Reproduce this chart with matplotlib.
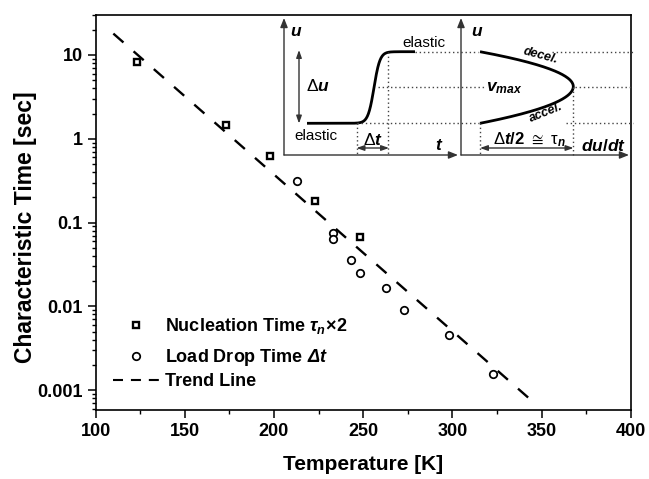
import numpy as np
import matplotlib
matplotlib.use("Agg")
import matplotlib.pyplot as plt
from matplotlib.ticker import FixedLocator, LogLocator, NullFormatter, FuncFormatter, MultipleLocator
from matplotlib.lines import Line2D

plt.rcParams['font.family'] = ['Liberation Sans', 'DejaVu Sans']
plt.rcParams['mathtext.fontset'] = 'custom'
plt.rcParams['mathtext.rm'] = 'Liberation Sans:bold'
plt.rcParams['mathtext.it'] = 'Liberation Sans:italic:bold'
plt.rcParams['mathtext.bf'] = 'Liberation Sans:bold'
plt.rcParams['mathtext.sf'] = 'Liberation Sans'
plt.rcParams['mathtext.cal'] = 'Liberation Sans:italic:bold'

# ---------------- data ----------------
nucleation_T = [123, 173, 198, 223, 248]
nucleation_time = [8.25, 1.47, 0.63, 0.183, 0.067]

loaddrop_T = [213, 233, 233, 243, 248, 263, 273, 298, 323]
loaddrop_time = [0.31, 0.075, 0.064, 0.036, 0.025, 0.0167, 0.0090, 0.0046, 0.00158]

trend_T = [110, 343]
trend_time = [18.0, 0.0008]

x_ticks = [100, 150, 200, 250, 300, 350, 400]
y_ticks = [0.001, 0.01, 0.1, 1, 10]

W, H = 649, 479
fig = plt.figure(figsize=(W / 100, H / 100), dpi=100)
ax = fig.add_axes([95.5 / W, 1 - 410 / H, (630.7 - 95.5) / W, (410 - 15) / H])

ax.set_yscale('log')
sq_style = dict(ls='none', marker='s', ms=4.6, mew=1.7, mec='black', mfc='white')
ci_style = dict(ls='none', marker='o', ms=5.4, mew=1.25, mec='black', mfc='white')
ax.plot(trend_T, trend_time, color='black', lw=1.7, dashes=(5.7, 5.7), dash_capstyle='butt')
ax.plot(nucleation_T, nucleation_time, **sq_style)
ax.plot(loaddrop_T, loaddrop_time, **ci_style)

ax.set_xlim(100, 400)
ax.set_ylim(5.8e-4, 30)
ax.xaxis.set_major_locator(FixedLocator(x_ticks))
ax.xaxis.set_minor_locator(MultipleLocator(25))
ax.yaxis.set_major_locator(FixedLocator(y_ticks))
ax.yaxis.set_minor_locator(LogLocator(base=10, subs=np.arange(2, 10)))
ax.yaxis.set_minor_formatter(NullFormatter())
ax.yaxis.set_major_formatter(FuncFormatter(lambda v, p: f"{v:g}"))

for s in ax.spines.values():
    s.set_linewidth(1.2)
ax.tick_params(which='major', direction='out', length=5.5, width=1.1, labelsize=13, pad=3.5)
ax.tick_params(which='minor', direction='out', length=3.2, width=1.0)
ax.tick_params(top=False, right=False, which='both')
for lab in ax.get_xticklabels() + ax.get_yticklabels():
    lab.set_fontweight('bold')

ax.set_xlabel('Temperature [K]', fontsize=15, fontweight='bold')
ax.set_ylabel('Characteristic Time [sec]', fontsize=16.5, fontweight='bold')
ax.xaxis.set_label_coords(0.5, (410 - 455) / 395)
ax.yaxis.set_label_coords((37 - 95.5) / 535.2, (410 - 227.5) / 395)

# legend (two blocks to reproduce the uneven row spacing)
leg_kw = dict(frameon=False, borderpad=0, borderaxespad=0, handlelength=2.6,
              handletextpad=0.3, numpoints=1, prop={'size': 13, 'weight': 'bold'},
              bbox_transform=fig.transFigure, loc='center left')
leg1 = ax.legend([Line2D([], [], **sq_style), Line2D([], [], **ci_style)],
                 [r'Nucleation Time $\tau_n\!\times\!2$', r'Load Drop Time $\mathcal{\Delta t}$'],
                 bbox_to_anchor=(113 / W, 1 - 342 / H), labelspacing=0.6, **leg_kw)
ax.add_artist(leg1)
ax.legend([Line2D([], [], color='black', lw=1.5, dashes=(4.8, 3.8))], ['Trend Line'],
          bbox_to_anchor=(113 / W, 1 - 382 / H), **leg_kw)

# ---------------- inset schematic (pixel coordinates of the figure) ----------------
ov = fig.add_axes([0, 0, 1, 1])
ov.set_xlim(0, W)
ov.set_ylim(H, 0)
ov.axis('off')
ov.patch.set_visible(False)

gc = '#333333'
def arrow(x0, y0, x1, y1, style='-|>,head_length=0.55,head_width=0.22'):
    ov.annotate('', xy=(x1, y1), xytext=(x0, y0),
                arrowprops=dict(arrowstyle=style, lw=1.0, color=gc,
                                shrinkA=0, shrinkB=0))

dstyle = '<|-|>,head_length=0.45,head_width=0.16'
dot = dict(color='#444444', lw=1.0, ls=(0, (1, 2)))

# left panel axes
arrow(284, 155, 284, 18)
arrow(284, 155, 458, 155)
# right panel axes
arrow(461, 155, 461, 18)
arrow(461, 155, 629, 155)

# sigmoid u(t)
xs = np.linspace(307, 415, 300)
ys = 123.3 - 71.6 * (0.5 + 0.5 * np.tanh((xs - 374) / 6.0))
ov.plot(xs, ys, color='black', lw=2.0, solid_capstyle='butt')

# bell: du/dt vs u
yu = np.linspace(51.7, 86.5, 100)
xu = 573.3 - 93.3 * ((86.5 - yu) / 34.8) ** 2
yl = np.linspace(86.5, 123.3, 100)
xl = 573.3 - 93.3 * ((yl - 86.5) / 36.8) ** 2
ov.plot(np.r_[xu, xl], np.r_[yu, yl], color='black', lw=2.0, solid_capstyle='butt')

# dotted guides
ov.plot([415, 478], [51.7, 51.7], **dot)
ov.plot([552, 633], [51.7, 51.7], **dot)
ov.plot([378, 484], [86.5, 86.5], **dot)
ov.plot([575, 633], [86.5, 86.5], **dot)
ov.plot([357, 479], [123.3, 123.3], **dot)
ov.plot([566, 633], [123.3, 123.3], **dot)
ov.plot([356.7, 356.7], [123.3, 155], **dot)
ov.plot([388.3, 388.3], [51.7, 155], **dot)
ov.plot([480, 480], [123.3, 155], **dot)
ov.plot([573.3, 573.3], [86.5, 155], **dot)

# double arrows
arrow(299, 123.5, 299, 50, dstyle)
arrow(356.5, 148, 389, 148, dstyle)
arrow(480, 148, 573.5, 148, dstyle)

# texts
ov.text(290, 31, r'$\mathit{u}$', fontsize=12.5, ha='left', va='center')
ov.text(471, 31, r'$\mathit{u}$', fontsize=12.5, ha='left', va='center')
ov.text(439, 146, r'$\mathit{t}$', fontsize=12.5, ha='center', va='center')
ov.text(604, 146, r'$\mathit{du/dt}$', fontsize=12.5, ha='center', va='center')
ov.text(306, 86, r'$\mathsf{\Delta}\mathit{u}$', fontsize=12.5, ha='left', va='center')
ov.text(372.5, 140, r'$\mathsf{\Delta}\mathit{t}$', fontsize=12.5, ha='center', va='center')
ov.text(316, 136, 'elastic', fontsize=11, ha='center', va='center')
ov.text(424, 43, 'elastic', fontsize=11, ha='center', va='center')
ov.text(529, 140, r'$\mathsf{\Delta}\mathit{t/2}\ \mathsf{\cong}\ \mathsf{\tau}_{\mathcal{n}}$',
        fontsize=12, ha='center', va='center')
ov.text(486, 88, r'$\mathit{v}_{\mathit{max}}$', fontsize=12.5, ha='left', va='center')
ov.text(541, 56, 'decel.', fontsize=9, fontweight='bold', fontstyle='italic',
        rotation=-15, ha='center', va='center', rotation_mode='anchor')
ov.text(546, 113, 'accel.', fontsize=9, fontweight='bold', fontstyle='italic',
        rotation=22, ha='center', va='center', rotation_mode='anchor')

fig.savefig('out.png', dpi=100)
